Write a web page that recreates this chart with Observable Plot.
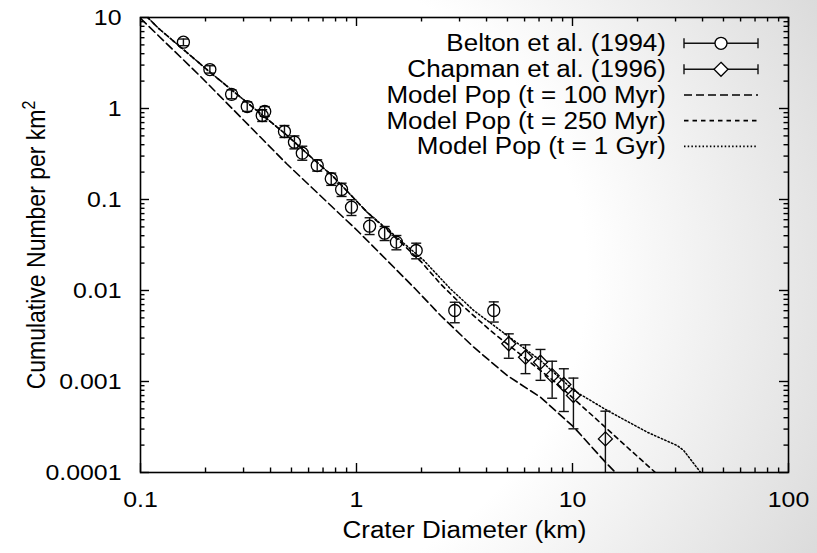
<!DOCTYPE html>
<html><head><meta charset="utf-8">
<script src="https://cdn.jsdelivr.net/npm/d3@7"></script>
<script src="https://cdn.jsdelivr.net/npm/@observablehq/plot@0.6"></script>
<style>
html,body{margin:0;padding:0;}
body{width:817px;height:553px;overflow:hidden;background:radial-gradient(ellipse 90% 115% at 25% 50%, #ffffff 52%, #d6d6d6 100%);}
#chart svg{display:block;}
</style></head><body><div id="chart"></div>
<script>
// Belton et al. (1994): diameter (km), cumulative number per km^2, error range
const beltonD  = [0.158, 0.2095, 0.264, 0.312, 0.366, 0.376, 0.464, 0.516, 0.561, 0.658, 0.764, 0.853, 0.948, 1.15, 1.35, 1.53, 1.89, 2.85, 4.32];
const beltonN  = [5.35, 2.68, 1.43, 1.05, 0.838, 0.927, 0.559, 0.426, 0.323, 0.236, 0.169, 0.129, 0.0823, 0.0509, 0.0426, 0.034, 0.0275, 0.00603, 0.00603];
const beltonLo = [4.9, 2.45, 1.28, 0.93, 0.72, 0.82, 0.48, 0.36, 0.27, 0.205, 0.143, 0.108, 0.0667, 0.0412, 0.0354, 0.028, 0.0223, 0.00442, 0.0045];
const beltonHi = [5.8, 2.95, 1.6, 1.18, 0.97, 1.05, 0.65, 0.5, 0.385, 0.273, 0.195, 0.151, 0.0993, 0.063, 0.0505, 0.0402, 0.0331, 0.00743, 0.0075];
// Chapman et al. (1996)
const chapmanD  = [5.07, 6.06, 7.11, 8.05, 9.12, 10.1, 14.2];
const chapmanN  = [0.0026, 0.00185, 0.00163, 0.00116, 0.000927, 0.000702, 0.000234];
const chapmanLo = [0.0018, 0.00122, 0.00103, 0.000655, 0.000468, 0.000302, 0.00003];
const chapmanHi = [0.00334, 0.00253, 0.00225, 0.00167, 0.00138, 0.00109, 0.000472];
// Model populations
const m100D = [0.1, 0.19, 0.475, 1.016, 1.87, 2.45, 3.49, 4.99, 7.11, 10.14, 14.2, 15.8, 17];
const m100N = [9.8, 2.24, 0.247, 0.0448, 0.01045, 0.00531, 0.00238, 0.00116, 0.000672, 0.000315, 0.00013, 0.0001, 0.00008];
const m250D = [0.1, 0.121, 0.21, 0.316, 0.468, 0.592, 0.785, 1.12, 1.6, 2.0, 2.45, 3.14, 4.17, 5.95, 8.49, 12.1, 18.6, 24.2, 26];
const m250N = [12, 7.63, 2.5, 1.13, 0.527, 0.318, 0.176, 0.0725, 0.034, 0.0205, 0.0118, 0.0066, 0.00363, 0.00185, 0.000944, 0.000442, 0.000175, 0.0001, 0.00008];
const m1gD = [0.1, 0.121, 0.21, 0.316, 0.468, 0.592, 0.785, 1.12, 1.6, 2.05, 2.72, 3.49, 4.99, 7.11, 10.14, 14.5, 22.2, 30.5, 32.7, 39.2, 42];
const m1gN = [12, 7.63, 2.5, 1.13, 0.527, 0.318, 0.176, 0.0725, 0.0354, 0.0214, 0.01045, 0.00603, 0.0032, 0.0017, 0.000796, 0.00048, 0.000277, 0.000198, 0.000175, 0.0001, 0.00008];

const xTicks = [0.1, 1, 10, 100];
const xTickLabels = ["0.1", "1", "10", "100"];
const yTicks = [0.0001, 0.001, 0.01, 0.1, 1, 10];
const yTickLabels = ["0.0001", "0.001", "0.01", "0.1", "1", "10"];
const legendLabels = ["Belton et al. (1994)", "Chapman et al. (1996)", "Model Pop (t = 100 Myr)", "Model Pop (t = 250 Myr)", "Model Pop (t = 1 Gyr)"];
const xLabel = "Crater Diameter (km)";
const yLabelBase = "Cumulative Number per km";
const yLabelSup = "2";

const belton = beltonD.map((d, i) => ({d, n: beltonN[i], lo: beltonLo[i], hi: beltonHi[i]}));
const chapman = chapmanD.map((d, i) => ({d, n: chapmanN[i], lo: chapmanLo[i], hi: chapmanHi[i]}));
const toPts = (D, N) => D.map((d, i) => ({d, n: N[i]}));
const m100 = toPts(m100D, m100N), m250 = toPts(m250D, m250N), m1g = toPts(m1gD, m1gN);

const minor = (decades) => decades.flatMap(p => [2,3,4,5,6,7,8,9].map(k => k * p));
const xMinor = minor([0.1, 1, 10]);
const yMinor = minor([0.0001, 0.001, 0.01, 0.1, 1]);

const W = 648, H = 455, major = 9, minorLen = 4.5;
const tickStyle = {stroke: "#000", strokeWidth: 1.4};
const capSymbol = {draw(ctx, size) { const w = Math.sqrt(size / Math.PI); ctx.moveTo(-w, 0); ctx.lineTo(w, 0); }};

const errMarks = (data) => [
  Plot.ruleX(data, {x: "d", y1: "lo", y2: "hi", stroke: "#111", strokeWidth: 1.4, clip: true}),
  Plot.dot(data, {x: "d", y: "lo", symbol: capSymbol, r: 5, stroke: "#111", fill: "none", strokeWidth: 1.4, clip: true}),
  Plot.dot(data, {x: "d", y: "hi", symbol: capSymbol, r: 5, stroke: "#111", fill: "none", strokeWidth: 1.4, clip: true})
];

const chart = Plot.plot({
  width: 817, height: 553,
  marginLeft: 140, marginRight: 29, marginTop: 17, marginBottom: 81,
  style: {background: "transparent", fontFamily: "'Liberation Sans', Arial, sans-serif", fontSize: "22px", color: "#000", overflow: "visible"},
  x: {type: "log", domain: [0.1, 100]},
  y: {type: "log", domain: [0.0001, 10]},
  marks: [
    Plot.tickX(xTicks, {x: d => d, insetTop: H - major, ...tickStyle}),
    Plot.tickX(xTicks, {x: d => d, insetBottom: H - major, ...tickStyle}),
    Plot.tickX(xMinor, {x: d => d, insetTop: H - minorLen, ...tickStyle}),
    Plot.tickX(xMinor, {x: d => d, insetBottom: H - minorLen, ...tickStyle}),
    Plot.tickY(yTicks, {y: d => d, insetRight: W - major, ...tickStyle}),
    Plot.tickY(yTicks, {y: d => d, insetLeft: W - major, ...tickStyle}),
    Plot.tickY(yMinor, {y: d => d, insetRight: W - minorLen, ...tickStyle}),
    Plot.tickY(yMinor, {y: d => d, insetLeft: W - minorLen, ...tickStyle}),
    Plot.axisX({ticks: xTicks, tickSize: 0, tickPadding: 19, tickFormat: d => xTickLabels[xTicks.indexOf(d)], label: null}),
    Plot.axisY({ticks: yTicks, tickSize: 0, tickPadding: 19, tickFormat: d => yTickLabels[yTicks.indexOf(d)], label: null}),
    Plot.text([xLabel], {frameAnchor: "bottom", dy: 58, lineAnchor: "middle", textAnchor: "middle", fontSize: 23, text: d => d}),
    Plot.text([yLabelBase], {frameAnchor: "left", dx: -104, rotate: -90, lineAnchor: "middle", textAnchor: "middle", fontSize: 23, text: d => d, className: "ylab"}),
    Plot.line(m100, {x: "d", y: "n", stroke: "#000", strokeWidth: 1.6, strokeDasharray: "8,4", clip: true}),
    Plot.line(m250, {x: "d", y: "n", stroke: "#000", strokeWidth: 1.6, strokeDasharray: "4.5,4", clip: true}),
    Plot.line(m1g, {x: "d", y: "n", stroke: "#000", strokeWidth: 1.5, strokeDasharray: "1.5,2.2", clip: true}),
    ...errMarks(belton),
    ...errMarks(chapman),
    Plot.dot(belton, {x: "d", y: "n", r: 6, stroke: "#000", fill: "none", strokeWidth: 1.3}),
    Plot.dot(chapman, {x: "d", y: "n", r: 6.3, symbol: "diamond2", stroke: "#000", fill: "none", strokeWidth: 1.3, clip: true}),
    Plot.frame({stroke: "#000", strokeWidth: 1.6})
  ]
});
document.getElementById("chart").appendChild(chart);

const svg = d3.select(chart);

// y-axis title: superscript 2 and wider glyphs like the reference
svg.selectAll("text").filter(function() { return this.textContent === yLabelBase; }).each(function() {
  const t = d3.select(this);
  t.append("tspan").attr("font-size", 16).attr("dy", "-0.55em").text(yLabelSup);
  t.attr("transform", (t.attr("transform") || "") + " scale(1,1.13)");
});

// Legend (inside the plot, top right)
const lg = svg.append("g").attr("font-family", "'Liberation Sans', Arial, sans-serif").attr("font-size", 23);
const rowY = [43.3, 69.3, 95, 120.6, 146.4];
const textX = 666, s1 = 684, s2 = 758, sm = 721;
const dashes = [null, null, "8,4", "4.5,4", "1.5,2.2"];
legendLabels.forEach((label, i) => {
  const y = rowY[i];
  lg.append("text").attr("x", textX).attr("y", y).attr("dy", "0.35em").attr("text-anchor", "end").text(label);
  if (i < 2) {
    lg.append("line").attr("x1", s1).attr("x2", s2).attr("y1", y).attr("y2", y).attr("stroke", "#111").attr("stroke-width", 1.4);
    [s1, s2].forEach(x => lg.append("line").attr("x1", x).attr("x2", x).attr("y1", y - 5).attr("y2", y + 5).attr("stroke", "#111").attr("stroke-width", 1.4));
    if (i === 0) lg.append("circle").attr("cx", sm).attr("cy", y).attr("r", 6).attr("fill", "white").attr("stroke", "#000").attr("stroke-width", 1.3);
    else lg.append("path").attr("d", d3.symbol(d3.symbolDiamond2, 6.3 * 6.3 * Math.PI)()).attr("transform", `translate(${sm},${y})`).attr("fill", "white").attr("stroke", "#000").attr("stroke-width", 1.3);
  } else {
    lg.append("line").attr("x1", s1).attr("x2", s2).attr("y1", y).attr("y2", y).attr("stroke", "#000").attr("stroke-width", 1.6).attr("stroke-dasharray", dashes[i]);
  }
});

// horizontal stretch of horizontal texts to match the reference's wide lettering
svg.selectAll("text").each(function() {
  const t = this;
  const tr = t.getAttribute("transform") || "";
  if (tr.includes("rotate")) return;
  const len = t.getComputedTextLength();
  if (len > 0) { t.setAttribute("textLength", (len * 1.13).toFixed(2)); t.setAttribute("lengthAdjust", "spacingAndGlyphs"); }
});
</script>
</body></html>
